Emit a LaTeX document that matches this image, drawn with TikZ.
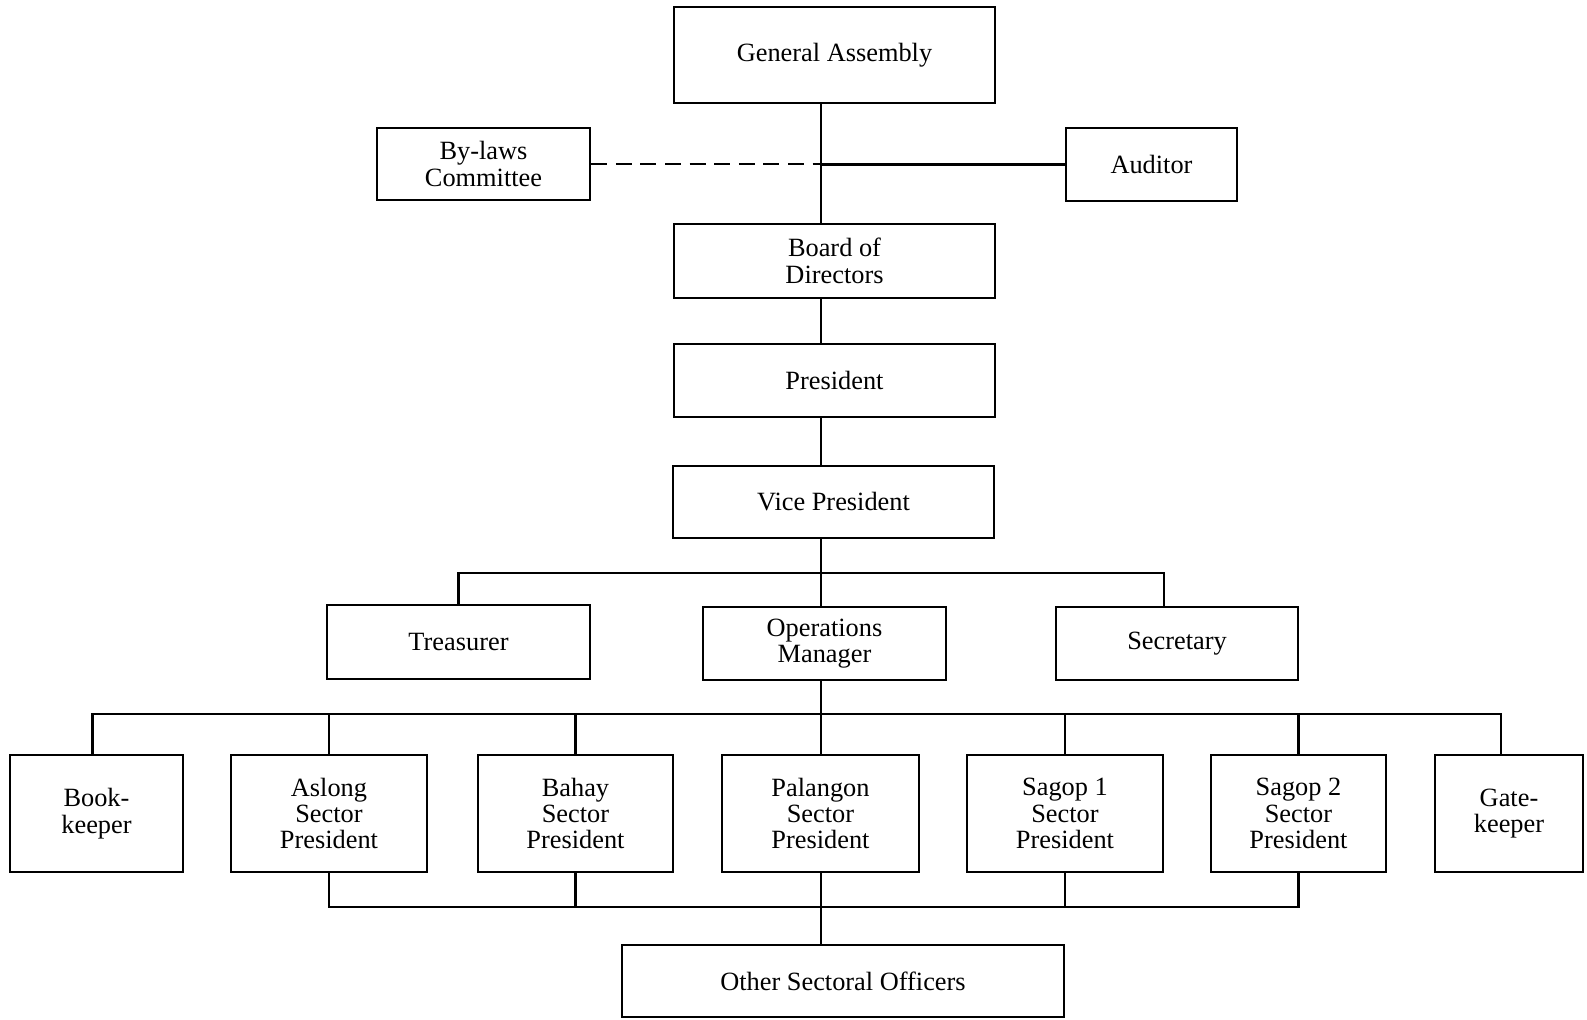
\documentclass[tikz,border=0pt]{standalone}
\usepackage{fontspec}
\setmainfont{Liberation Serif}

\begin{document}
\begin{tikzpicture}[x=0.02cm,y=-0.02cm,
    box/.style={draw,line width=1.5pt,align=center,inner sep=0pt,font=\fontsize{15}{15}\selectfont},
    link/.style={line width=1.3pt}]
\useasboundingbox (0,0) rectangle (1587,1020);

% upper part of the chart
\node[box,minimum width=6.42cm,minimum height=1.92cm] (ga) at (834.5,55) {General Assembly};
\node[box,minimum width=4.26cm,minimum height=1.44cm] (by) at (483.5,164) {By-laws\\Committee};
\node[box,minimum width=3.42cm,minimum height=1.46cm] (aud) at (1151.5,164.5) {Auditor};
\node[box,minimum width=6.42cm,minimum height=1.48cm] (bod) at (834.5,261) {Board of\\Directors};
\node[box,minimum width=6.42cm,minimum height=1.46cm] (pres) at (834.5,380.5) {President};
\node[box,minimum width=6.42cm,minimum height=1.44cm] (vp) at (833.5,502) {Vice President};

\node[box,minimum width=5.26cm,minimum height=1.48cm] (tre) at (458.5,642) {Treasurer};
\node[box,minimum width=4.86cm,minimum height=1.46cm] (ops) at (824.5,643.5) {Operations\\Manager};
\node[box,minimum width=4.84cm,minimum height=1.46cm] (sec) at (1177,643.5) {Secretary};

% sector row
\node[box,minimum width=3.46cm,minimum height=2.34cm] (bk) at (96.5,813.5) {Book-\\keeper};
\node[box,minimum width=3.92cm,minimum height=2.34cm] (asl) at (329,813.5) {Aslong\\Sector\\President};
\node[box,minimum width=3.90cm,minimum height=2.34cm] (bah) at (575.5,813.5) {Bahay\\Sector\\President};
\node[box,minimum width=3.94cm,minimum height=2.34cm] (pal) at (820.5,813.5) {Palangon\\Sector\\President};
\node[box,minimum width=3.92cm,minimum height=2.34cm] (sg1) at (1065,813.5) {Sagop 1\\Sector\\President};
\node[box,minimum width=3.50cm,minimum height=2.34cm] (sg2) at (1298.5,813.5) {Sagop 2\\Sector\\President};
\node[box,minimum width=2.96cm,minimum height=2.34cm] (gk) at (1509,813.5) {Gate-\\keeper};

\node[box,minimum width=8.84cm,minimum height=1.44cm] (oso) at (843,981) {Other Sectoral Officers};

\coordinate (spine) at (821,0);
\coordinate (midbus) at (0,573);
\coordinate (topbus) at (0,714);
\coordinate (lowbus) at (0,907);

\draw[link] (ga.south -| spine) -- (bod.north -| spine);
\draw[link,dash pattern=on 9pt off 5pt] (by.east) -- (by.east -| spine);
\draw[link] (aud.west -| spine) -- (aud.west);
\draw[link] (bod.south -| spine) -- (pres.north -| spine);
\draw[link] (pres.south -| spine) -- (vp.north -| spine);
\draw[link] (vp.south -| spine) -- (ops.north -| spine);
\draw[link] (tre.north) -- (tre.north |- midbus) -- ([xshift=-0.26cm]sec.north |- midbus) -- ([xshift=-0.26cm]sec.north);

\draw[link] (ops.south -| spine) -- (pal.north -| spine);
\draw[link] ([xshift=-0.08cm]bk.north) -- ([xshift=-0.08cm]bk.north |- topbus)
  -- ([xshift=-0.16cm]gk.north |- topbus) -- ([xshift=-0.16cm]gk.north);
\foreach \n in {asl,bah,sg1,sg2}
  \draw[link] (\n.north) -- (\n.north |- topbus);

\draw[link] (asl.south) -- (asl.south |- lowbus) -- (sg2.south |- lowbus) -- (sg2.south);
\foreach \n in {bah,sg1}
  \draw[link] (\n.south) -- (\n.south |- lowbus);
\draw[link] (pal.south -| spine) -- (oso.north -| spine);
\end{tikzpicture}
\end{document}
